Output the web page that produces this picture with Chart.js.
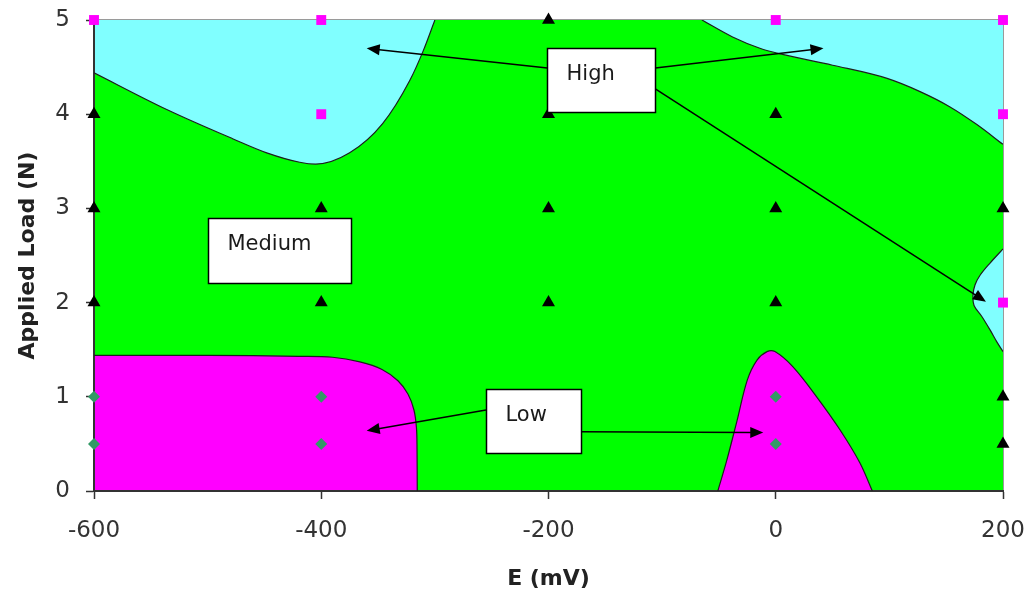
<!DOCTYPE html>
<html>
<head>
<meta charset="utf-8">
<script src="https://cdn.jsdelivr.net/npm/chart.js@4/dist/chart.umd.min.js"></script>
<style>
  html, body { margin: 0; padding: 0; background: #fff; }
</style>
</head>
<body>
<canvas id="wear-map" width="1029" height="593"></canvas>
<script>
const xTicks = [-600, -400, -200, 0, 200];
const yTicks = [0, 1, 2, 3, 4, 5];

// test points, grouped by wear level
const highE = [-600, -400, -400, 0, 200, 200, 200];
const highLoad = [5, 5, 4, 5, 5, 4, 2];
const mediumE = [-600, -600, -600, -400, -400, -200, -200, -200, -200, 0, 0, 0, 200, 200, 200];
const mediumLoad = [4, 3, 2, 3, 2, 5, 4, 3, 2, 4, 3, 2, 3, 1, 0.5];
const lowE = [-600, -600, -400, -400, 0, 0];
const lowLoad = [1, 0.5, 1, 0.5, 1, 0.5];

// region boundaries
const mediumAreaE = [-600, 200];
const mediumAreaN = [5, 5];
const highLeftE = [-600, -536, -478, -448, -419, -405, -375, -346, -322, -310, -300];
const highLeftN = [4.44, 4.05, 3.74, 3.59, 3.49, 3.47, 3.59, 3.90, 4.36, 4.68, 5.0];
const highRightE = [-65, -38, -14, 4, 50, 98, 127, 153, 177, 200];
const highRightN = [5.0, 4.82, 4.70, 4.64, 4.52, 4.38, 4.24, 4.08, 3.89, 3.68];
const highEdgeE = [200, 188.6, 179.8, 175.4, 173.6, 174.5, 181.5, 188.6, 194.7, 200];
const highEdgeN = [2.57, 2.42, 2.29, 2.19, 2.08, 1.97, 1.85, 1.71, 1.58, 1.48];
const lowLeftE = [-600, -500, -420, -390, -366, -346.5, -332.5, -323.7, -318.4, -316.2, -315.7, -315.5];
const lowLeftN = [1.44, 1.44, 1.43, 1.42, 1.37, 1.29, 1.17, 1.03, 0.86, 0.67, 0.44, 0];
const lowMidE = [-51, -43, -34, -25, -16.5, -7.7, -0.7, 15, 36, 56.5, 74, 85];
const lowMidN = [0, 0.33, 0.75, 1.18, 1.39, 1.48, 1.48, 1.32, 1.0, 0.65, 0.3, 0];

// labels and arrows, in axis units
const noteText = ["High", "Medium", "Low"];
const noteLeft = [-201, -500, -255];
const noteRight = [-106, -374, -171];
const noteTop = [4.70, 2.90, 1.08];
const noteBottom = [4.02, 2.21, 0.40];
const arrowFromE = [-201, -106, -106, -255, -171];
const arrowFromN = [4.49, 4.49, 4.27, 0.86, 0.63];
const arrowToE = [-360, 42, 185, -360, -11];
const arrowToN = [4.70, 4.70, 2.01, 0.64, 0.62];

const pts = (xs, ys) => xs.map((x, i) => ({x: x, y: ys[i]}))

const region = (xs, ys, color, fill, mode) => ({
    data: pts(xs, ys),
    showLine: true,
    fill: fill,
    backgroundColor: color,
    borderColor: "#1e1e1e",
    borderWidth: 1.2,
    tension: 0.35,
    cubicInterpolationMode: mode || "default",
    pointRadius: 0,
})

const marker = (xs, ys, style, radius, color) => ({
    data: pts(xs, ys),
    pointStyle: style,
    pointRadius: radius,
    pointBackgroundColor: color,
    pointBorderWidth: 0,
    clip: false,
})

const frame = {
    id: "frame",
    beforeDraw(chart) {
        const {ctx, chartArea: a} = chart
        ctx.save()
        ctx.strokeStyle = "#9a9a9a"
        ctx.lineWidth = 1
        ctx.beginPath()
        ctx.moveTo(a.left, a.top - 0.5)
        ctx.lineTo(a.right + 0.5, a.top - 0.5)
        ctx.lineTo(a.right + 0.5, a.bottom)
        ctx.stroke()
        ctx.restore()
    }
}

function drawArrow(ctx, x1, y1, x2, y2) {
    const ang = Math.atan2(y2 - y1, x2 - x1)
    const c = Math.cos(ang), s = Math.sin(ang)
    const len = 13, half = 5.5
    ctx.beginPath()
    ctx.moveTo(x1, y1)
    ctx.lineTo(x2 - c * len * 0.8, y2 - s * len * 0.8)
    ctx.stroke()
    ctx.beginPath()
    ctx.moveTo(x2, y2)
    ctx.lineTo(x2 - c * len + s * half, y2 - s * len - c * half)
    ctx.lineTo(x2 - c * len - s * half, y2 - s * len + c * half)
    ctx.closePath()
    ctx.fill()
}

const notes = {
    id: "notes",
    afterDatasetsDraw(chart) {
        const {ctx} = chart
        const sx = chart.scales.x, sy = chart.scales.y
        ctx.save()
        ctx.strokeStyle = "#000"
        ctx.fillStyle = "#000"
        ctx.lineWidth = 1.5
        arrowFromE.forEach((e, i) => {
            drawArrow(ctx, sx.getPixelForValue(e), sy.getPixelForValue(arrowFromN[i]),
                sx.getPixelForValue(arrowToE[i]), sy.getPixelForValue(arrowToN[i]))
        })
        ctx.font = '21px "DejaVu Sans"'
        ctx.textBaseline = "alphabetic"
        noteText.forEach((t, i) => {
            const l = Math.round(sx.getPixelForValue(noteLeft[i])) + 0.5
            const r = Math.round(sx.getPixelForValue(noteRight[i])) + 0.5
            const top = Math.round(sy.getPixelForValue(noteTop[i])) + 0.5
            const b = Math.round(sy.getPixelForValue(noteBottom[i])) + 0.5
            ctx.fillStyle = "#fff"
            ctx.fillRect(l, top, r - l, b - top)
            ctx.strokeRect(l, top, r - l, b - top)
            ctx.fillStyle = "#1a1a1a"
            ctx.fillText(t, l + 19, top + 31)
        })
        ctx.restore()
    }
}

const tickFont = {family: "DejaVu Sans", size: 23}
const titleFont = {family: "DejaVu Sans", size: 22, weight: "bold"}

let wearMap = new Chart(document.getElementById("wear-map"), {
    type: "scatter",
    data: {
        datasets: [
            marker(highE, highLoad, "rect", 7, "#FF00FF"),
            marker(mediumE, mediumLoad, "triangle", 7.5, "#000000"),
            marker(lowE, lowLoad, "rectRot", 6, "#339966"),
            region(highLeftE, highLeftN, "#80FFFF", "end", "monotone"),
            region(highRightE, highRightN, "#80FFFF", "end", "monotone"),
            region(highEdgeE, highEdgeN, "#80FFFF", "shape"),
            region(lowLeftE, lowLeftN, "#FF00FF", "start"),
            region(lowMidE, lowMidN, "#FF00FF", "start"),
            {
                data: pts(mediumAreaE, mediumAreaN),
                showLine: true,
                fill: "start",
                backgroundColor: "#00FF00",
                borderColor: "rgba(0,0,0,0)",
                borderWidth: 0,
                pointRadius: 0,
            },
        ],
    },
    plugins: [frame, notes],
    options: {
        responsive: false,
        animation: false,
        events: [],
        layout: {padding: {top: 20, right: 26, left: 0, bottom: 0}},
        plugins: {
            legend: {display: false},
            tooltip: {enabled: false},
            filler: {drawTime: "beforeDraw"},
        },
        scales: {
            x: {
                type: "linear",
                min: -600,
                max: 200,
                afterBuildTicks: s => { s.ticks = xTicks.map(v => ({value: v})) },
                afterFit: s => { s.height = 102; s.paddingLeft = 0; s.paddingRight = 0 },
                ticks: {font: tickFont, color: "#333", padding: 18, maxRotation: 0, callback: v => String(v)},
                grid: {drawOnChartArea: false, tickLength: 8, tickWidth: 1.5, color: "#333"},
                border: {color: "#333", width: 2},
                title: {display: true, text: "E (mV)", font: titleFont, color: "#222", padding: {top: 0, bottom: 1}},
            },
            y: {
                type: "linear",
                min: 0,
                max: 5,
                afterBuildTicks: s => { s.ticks = yTicks.map(v => ({value: v})) },
                afterFit: s => { s.width = 94; s.paddingTop = 0; s.paddingBottom = 0 },
                ticks: {font: tickFont, color: "#333", padding: 16, callback: v => String(v)},
                grid: {drawOnChartArea: false, tickLength: 8, tickWidth: 1.5, color: "#333"},
                border: {color: "#333", width: 2},
                title: {display: true, text: "Applied Load (N)", font: titleFont, color: "#222", padding: {top: 15, bottom: 0}},
            },
        },
    },
});
</script>
</body>
</html>
